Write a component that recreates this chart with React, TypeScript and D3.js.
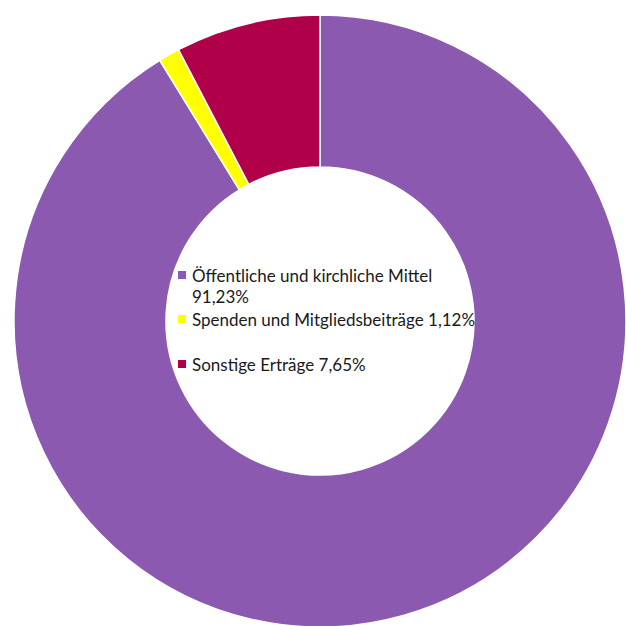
import React from "react";
import * as d3 from "d3";

const categories = ["Öffentliche und kirchliche Mittel", "Spenden und Mitgliedsbeiträge", "Sonstige Erträge"];
const values = [91.23, 1.12, 7.65];
const valueLabels = ["91,23%", "1,12%", "7,65%"];
const colors = ["#8B59B0", "#FFFF00", "#B0004A"];

export default function App() {
  const W = 626, H = 626;
  const cx = 320, cy = 321, R = 306, r = 154;
  const pie = d3.pie<number>().sort(null).value((d) => d)(values);
  const arc = d3.arc<d3.PieArcDatum<number>>().innerRadius(r).outerRadius(R);
  const font = "Lato, 'Open Sans', sans-serif";
  // legend lines: [itemIndex, text, baseline y, showMarker]
  const legendLines: [number, string, number, boolean][] = [
    [0, categories[0], 282, true],
    [0, valueLabels[0], 303, false],
    [1, categories[1] + " " + valueLabels[1], 326, true],
    [2, categories[2] + " " + valueLabels[2], 371, true],
  ];
  return (
    <svg width={W} height={H} style={{ position: "absolute", left: 0, top: 0 }}>
      <rect width={W} height={H} fill="#fff" />
      <g transform={`translate(${cx},${cy})`}>
        {pie.map((p, i) => (
          <path key={i} d={arc(p) || ""} fill={colors[i]} stroke="#fff" strokeWidth={1.5} />
        ))}
      </g>
      {legendLines.map(([idx, t, y, m], k) => (
        <g key={k}>
          {m && <rect x={178} y={y - 11} width={8} height={8} fill={colors[idx]} />}
          <text x={192} y={y} fontFamily={font} fontSize={17} fill="#1a1a1a">{t}</text>
        </g>
      ))}
    </svg>
  );
}
